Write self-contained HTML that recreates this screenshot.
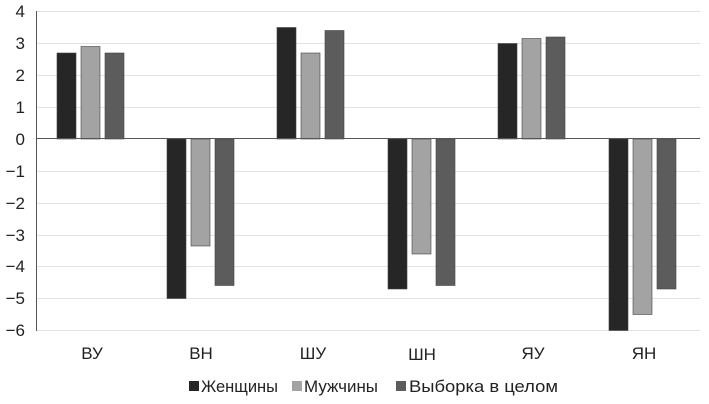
<!DOCTYPE html>
<html><head><meta charset="utf-8"><style>
body{margin:0;background:#fff;}
svg{display:block;font-family:"Liberation Sans",Arial,sans-serif;}
</style></head><body>
<svg width="709" height="404" viewBox="0 0 709 404">
<g stroke="#e3e3e3" stroke-width="1">
<line x1="36" x2="700" y1="11.5" y2="11.5"/>
<line x1="36" x2="700" y1="43.5" y2="43.5"/>
<line x1="36" x2="700" y1="75.5" y2="75.5"/>
<line x1="36" x2="700" y1="107.5" y2="107.5"/>
<line x1="36" x2="700" y1="171.5" y2="171.5"/>
<line x1="36" x2="700" y1="203.5" y2="203.5"/>
<line x1="36" x2="700" y1="235.5" y2="235.5"/>
<line x1="36" x2="700" y1="266.5" y2="266.5"/>
<line x1="36" x2="700" y1="298.5" y2="298.5"/>
<line x1="36" x2="700" y1="330.5" y2="330.5"/>
</g>
<g font-size="17" fill="#222" text-anchor="end">
<text x="25" y="17">4</text><text x="25" y="49">3</text><text x="25" y="81">2</text>
<text x="25" y="113">1</text><text x="25" y="145">0</text><text x="25" y="177">−1</text>
<text x="25" y="209">−2</text><text x="25" y="241">−3</text><text x="25" y="272">−4</text>
<text x="25" y="304">−5</text><text x="25" y="336">−6</text>
</g>
<g stroke="#444" stroke-width="0.6">
<rect x="57" y="53" width="19" height="86" fill="#262626"/>
<rect x="81" y="46.5" width="19" height="92.5" fill="#a3a3a3"/>
<rect x="105" y="53" width="19" height="86" fill="#5c5c5c"/>
<rect x="167" y="139" width="19" height="159.5" fill="#262626"/>
<rect x="191" y="139" width="19" height="107" fill="#a3a3a3"/>
<rect x="215" y="139" width="19" height="146.5" fill="#5c5c5c"/>
<rect x="277" y="27.5" width="19" height="111.5" fill="#262626"/>
<rect x="301" y="53" width="19" height="86" fill="#a3a3a3"/>
<rect x="325" y="30.5" width="19" height="108.5" fill="#5c5c5c"/>
<rect x="388" y="139" width="19" height="150" fill="#262626"/>
<rect x="412" y="139" width="19" height="115" fill="#a3a3a3"/>
<rect x="436" y="139" width="19" height="146.5" fill="#5c5c5c"/>
<rect x="498" y="43.5" width="19" height="95.5" fill="#262626"/>
<rect x="522" y="38.5" width="19" height="100.5" fill="#a3a3a3"/>
<rect x="546" y="37" width="19" height="102" fill="#5c5c5c"/>
<rect x="609" y="139" width="19" height="191.5" fill="#262626"/>
<rect x="633" y="139" width="19" height="175.5" fill="#a3a3a3"/>
<rect x="657" y="139" width="19" height="150" fill="#5c5c5c"/>
</g>
<line x1="36.5" x2="36.5" y1="11" y2="331" stroke="#555" stroke-width="1"/>
<line x1="36" x2="700" y1="138.5" y2="138.5" stroke="#555" stroke-width="1"/>
<g font-size="17" fill="#222" text-anchor="middle">
<text x="92" y="359">ВУ</text><text x="201" y="359">ВН</text><text x="313" y="359">ШУ</text>
<text x="422" y="360">ШН</text><text x="533" y="359">ЯУ</text><text x="644" y="359">ЯН</text>
</g>
<g font-size="17" fill="#222">
<rect x="189" y="381" width="10" height="10" fill="#262626"/>
<text x="201" y="392" textLength="77" lengthAdjust="spacingAndGlyphs">Женщины</text>
<rect x="292" y="381" width="10" height="10" fill="#a3a3a3"/>
<text x="304" y="392" textLength="74" lengthAdjust="spacingAndGlyphs">Мужчины</text>
<rect x="396" y="381" width="10" height="10" fill="#5c5c5c"/>
<text x="409" y="392" textLength="149" lengthAdjust="spacingAndGlyphs">Выборка в целом</text>
</g>
</svg>
</body></html>
